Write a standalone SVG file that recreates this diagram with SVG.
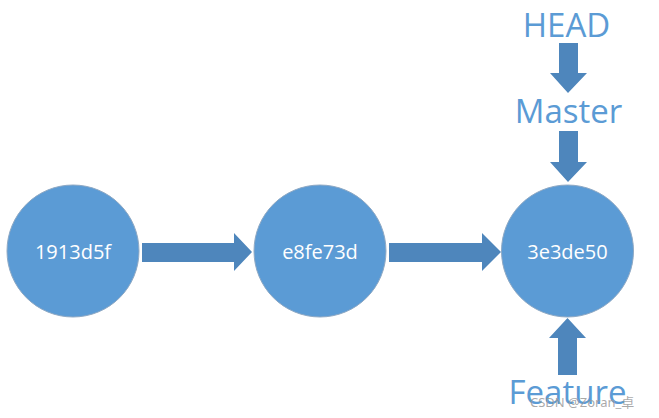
<svg xmlns="http://www.w3.org/2000/svg" width="659" height="418" viewBox="0 0 659 418">
<style>
.node{fill:#5B9BD5;stroke:#8FA9C4;stroke-width:1}
.ntext{fill:#FFFFFF;font-family:"Open Sans","Liberation Sans",sans-serif;font-size:20px;text-anchor:middle}
.label{fill:#5B9BD5;font-family:"Open Sans","Liberation Sans",sans-serif;font-size:33px;text-anchor:middle}
.arrow{fill:#4E86BC}
.wm{fill:#9A9A9A;fill-opacity:0.85;font-family:"Noto Sans","Noto Sans CJK SC",sans-serif;font-size:13px}
</style>
<rect width="659" height="418" fill="#FFFFFF"/>
<g id="connectors">
<polygon class="arrow" points="142,243 234,243 234,233 252,252 234,271 234,262 142,262"/>
<polygon class="arrow" points="389,243 482,243 482,233 501,252 482,271 482,262 389,262"/>
<polygon class="arrow" points="559,43 578,43 578,73 587,73 568,93 550,73 559,73"/>
<polygon class="arrow" points="559,131 578,131 578,162 587,162 568,182 550,162 559,162"/>
<polygon class="arrow" points="558,375 577,375 577,338 586,338 567.5,318 549,338 558,338"/>
</g>
<g id="node-1913d5f">
<circle class="node" cx="73" cy="251" r="66"/>
<text class="ntext" x="73" y="259">1913d5f</text>
</g>
<g id="node-e8fe73d">
<circle class="node" cx="320" cy="251" r="66"/>
<text class="ntext" x="320" y="259">e8fe73d</text>
</g>
<g id="node-3e3de50">
<circle class="node" cx="567.5" cy="251" r="66"/>
<text class="ntext" x="567.5" y="259">3e3de50</text>
</g>
<g id="label-HEAD">
<text class="label" x="566.5" y="37">HEAD</text>
</g>
<g id="label-Master">
<text class="label" x="568.5" y="123">Master</text>
</g>
<g id="label-Feature">
<text class="label" x="567.5" y="404">Feature</text>
</g>
<text class="wm" x="530" y="407">CSDN @Zoran_卓</text>
</svg>
